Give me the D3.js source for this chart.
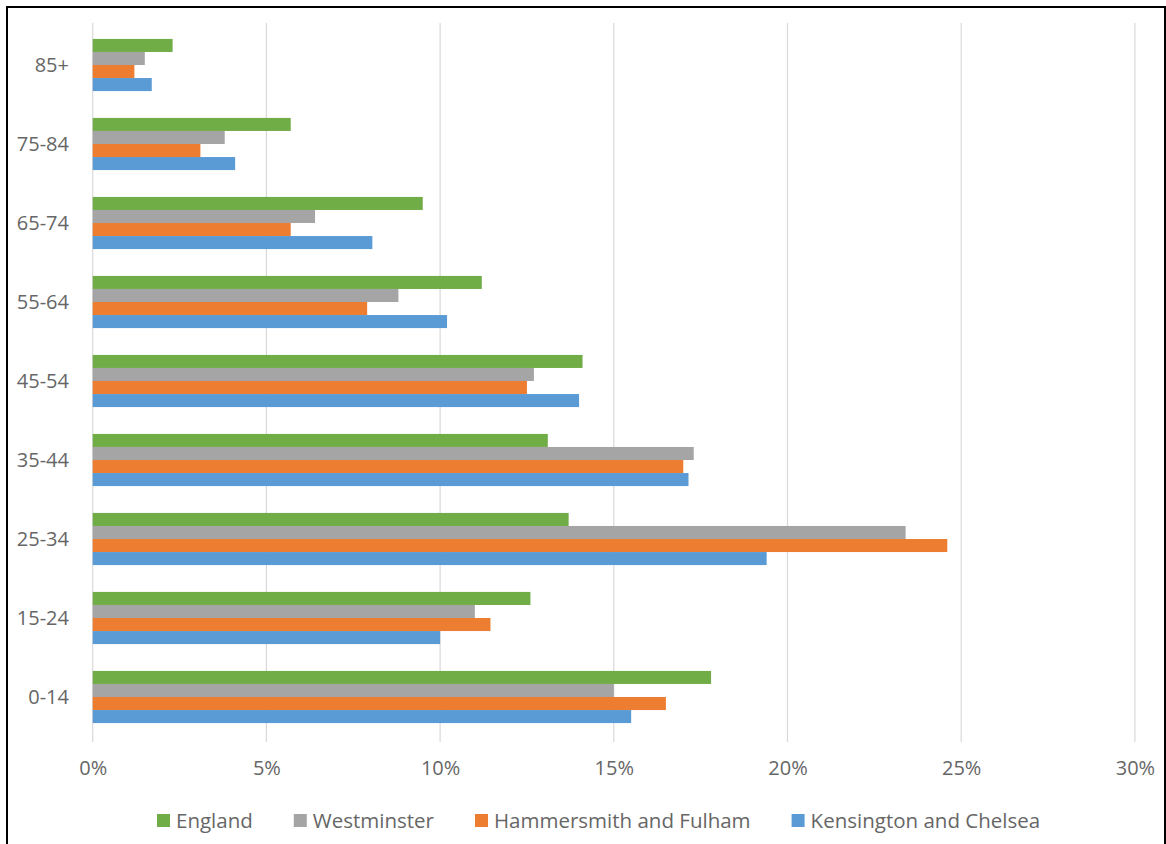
<!DOCTYPE html>
<html>
<head>
<meta charset="utf-8">
<script src="https://cdn.jsdelivr.net/npm/d3@7"></script>
<style>
  html, body { margin: 0; padding: 0; background: #fff; }
  svg { display: block; }
  text { font-family: "Open Sans", "Noto Sans", sans-serif; }
</style>
</head>
<body>
<svg id="chart" width="1166" height="844"></svg>
<script>
// Categories from top to bottom of the chart
const categories = ["85+", "75-84", "65-74", "55-64", "45-54", "35-44", "25-34", "15-24", "0-14"];
const seriesNames = ["England", "Westminster", "Hammersmith and Fulham", "Kensington and Chelsea"];
const seriesColors = ["#70AD47", "#A5A5A5", "#ED7D31", "#5B9BD5"];

// Values in percent, same order as categories
const england     = [2.3, 5.7, 9.5, 11.2, 14.1, 13.1, 13.7, 12.6, 17.8];
const westminster = [1.5, 3.8, 6.4, 8.8, 12.7, 17.3, 23.4, 11.0, 15.0];
const hammersmith = [1.2, 3.1, 5.7, 7.9, 12.5, 17.0, 24.6, 11.45, 16.5];
const kensington  = [1.7, 4.1, 8.05, 10.2, 14.0, 17.15, 19.4, 10.0, 15.5];

const xTicks = [0, 5, 10, 15, 20, 25, 30];

const seriesValues = [england, westminster, hammersmith, kensington];

const svg = d3.select("#chart");
const textColor = "#666";

// Outer frame
svg.append("rect")
  .attr("x", 7).attr("y", 7)
  .attr("width", 1158).attr("height", 860)
  .attr("fill", "none").attr("stroke", "#000").attr("stroke-width", 2);

const x = d3.scaleLinear().domain([0, 30]).range([92.7, 1134.9]);
const y = d3.scaleBand().domain(categories).range([25.5, 736.5])
  .paddingInner(0.34).paddingOuter(0.17);
const ySub = d3.scaleBand().domain(seriesNames).range([0, y.bandwidth()]);

// Gridlines
svg.append("g").selectAll("line").data(xTicks).join("line")
  .attr("x1", d => x(d)).attr("x2", d => x(d))
  .attr("y1", 23).attr("y2", 742)
  .attr("stroke", "#d9d9d9").attr("stroke-width", 1.2);

// X axis labels
const xAxis = d3.axisBottom(x).tickValues(xTicks).tickFormat(d => d + "%").tickSize(0);
const gx = svg.append("g").attr("transform", "translate(0,775)").call(xAxis);
gx.select(".domain").remove();
gx.selectAll("text")
  .attr("y", 0).attr("dy", 0)
  .attr("fill", textColor).attr("font-size", 20)
  .style("font-family", "'Open Sans', sans-serif");

// Y axis labels
const yAxis = d3.axisLeft(y).tickSize(0).tickPadding(0);
const gy = svg.append("g").attr("transform", "translate(69,1)").call(yAxis);
gy.select(".domain").remove();
gy.selectAll("text")
  .attr("fill", textColor).attr("font-size", 20)
  .style("font-family", "'Open Sans', sans-serif");

// Bars
const rows = [];
categories.forEach((c, i) => {
  seriesNames.forEach((s, j) => {
    rows.push({ cat: c, series: s, value: seriesValues[j][i], color: seriesColors[j] });
  });
});
svg.append("g").selectAll("rect").data(rows).join("rect")
  .attr("x", x(0))
  .attr("y", d => y(d.cat) + ySub(d.series))
  .attr("width", d => x(d.value) - x(0))
  .attr("height", ySub.bandwidth())
  .attr("fill", d => d.color);

// Legend (laid out by measured text widths)
const legend = svg.append("g");
let lx = 157;
seriesNames.forEach((s, j) => {
  legend.append("rect")
    .attr("x", lx).attr("y", 814)
    .attr("width", 13).attr("height", 13)
    .attr("fill", seriesColors[j]);
  const t = legend.append("text")
    .attr("x", lx + 19).attr("y", 828)
    .attr("fill", textColor).attr("font-size", 20.5)
    .text(s);
  lx = lx + 19 + t.node().getComputedTextLength() + 41;
});
</script>
</body>
</html>
